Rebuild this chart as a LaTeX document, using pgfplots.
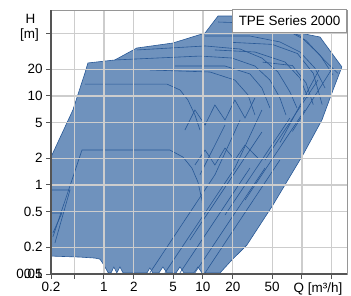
\documentclass[border=0pt]{standalone}
\usepackage{fontspec}
\setmainfont{Liberation Sans}
\usepackage{pgfplots}
\pgfplotsset{compat=1.18}
\definecolor{fillblue}{RGB}{111,146,189}
\definecolor{lineblue}{RGB}{40,88,150}
\definecolor{gridgray}{RGB}{205,205,205}
\definecolor{axisdark}{RGB}{85,85,85}
\definecolor{axislight}{RGB}{150,150,150}
\begin{document}
\begin{tikzpicture}
\path (0,0) rectangle (351bp,295bp);
\begin{axis}[
  set layers=axis on top,
  at={(51bp,21bp)}, anchor=south west, scale only axis,
  width=296bp, height=264bp,
  xmode=log, ymode=log,
  xmin=0.292, xmax=285, ymin=0.1, ymax=92.5,
  xtick={0.5,1,2,5,10,20,50,100,200},
  xticklabels={,1,2,5,10,20,50,,},
  ytick={0.1,0.2,0.5,1,2,5,10,20,50},
  yticklabels={0.1,0.2,0.5,1,2,5,10,20,},
  extra x ticks={0.292}, extra x tick labels={0.2},
  extra y ticks={0.1}, extra y tick labels={0.05},
  extra tick style={grid=none},
  xminorticks=false, yminorticks=false,
  grid=major, major grid style={gridgray, line width=1.2bp},
  axis on top,
  tick align=outside, tick pos=left, major tick length=5bp,
  every tick/.style={axisdark, line width=1bp},
  axis line style={axislight, line width=1bp},
  tick label style={font=\fontsize{13.5}{16}\selectfont, text=black},
  /pgf/number format/assume math mode=true,
  clip mode=individual,
]
% envelope
\addplot[fill=fillblue, draw=lineblue, line width=0.6bp] coordinates {
(0.292,0.159) (0.292,2.06) (0.486,6.96) (0.643,18.1) (0.689,23.5)
(1.29,25.4) (2.15,34.6) (4.98,39.4) (10.5,51.0) (14.2,79.2)
(67.3,79.2) (95.5,51.0) (152,46.0) (253,21.2) (206,11.7)
(159,5.37) (102,2.17) (50.9,0.596) (27.8,0.212) (19.6,0.144) (14.9,0.103)
(9.77,0.103) (8.90,0.12) (8.11,0.103)
(6.43,0.103) (5.86,0.12) (5.34,0.103)
(4.33,0.103) (3.94,0.12) (3.59,0.103)
(3.12,0.103) (2.91,0.117) (2.72,0.103)
(1.56,0.103) (1.45,0.12) (1.35,0.103) (1.26,0.12) (1.18,0.103)
(1.10,0.104) (1.0,0.126) (0.911,0.147) (0.811,0.151) (0.572,0.155) (0.292,0.159)
} -- cycle;
% small pumps at left
\addplot[lineblue, line width=0.6bp] coordinates {(0.298,0.879) (0.454,0.879) (0.320,0.223)};
\addplot[lineblue, line width=0.6bp] coordinates {(0.298,0.485) (0.377,0.485) (0.305,0.289)};
\addplot[lineblue, line width=0.6bp] coordinates {(0.305,0.261) (0.600,2.47)};
\addplot[lineblue, line width=0.6bp] coordinates {(0.292,1.03) (0.385,1.03)};
% medium curves
\addplot[lineblue, line width=0.6bp] coordinates {(0.600,2.47) (4.64,2.47) (6.28,2.06) (7.74,1.55) (8.90,1.08) (9.77,0.678) (10.2,0.460)};
\addplot[lineblue, line width=0.6bp] coordinates {(0.643,13.6) (4.33,13.6) (5.86,11.7) (7.05,9.02) (8.30,6.12) (9.33,4.15)};
% top arcs
\addplot[lineblue, line width=0.6bp] coordinates {(1.29,25.4) (9.33,28.1) (19.6,26.7) (33.5,21.7) (47.5,15.1) (59.9,9.50) (68.9,6.12)};
\addplot[lineblue, line width=0.6bp] coordinates {(2.15,32.9) (10.5,36.5) (23.7,33.7) (39.4,26.7) (57.2,18.6) (75.6,11.1) (89.0,7.33)};
\addplot[lineblue, line width=0.6bp] coordinates {(5.21,21.7) (16.7,21.7) (29.8,17.7) (39.4,12.3) (47.5,7.33)};
\addplot[lineblue, line width=0.6bp] coordinates {(10.5,47.2) (29.8,47.2) (59.9,40.5) (95.5,31.2) (135,20.6) (171,12.3)};
\addplot[lineblue, line width=0.6bp] coordinates {(14.2,67.8) (53.4,64.4) (95.5,47.2) (152,28.9) (206,17.2)};
\addplot[lineblue, line width=0.6bp] coordinates {(13.2,32.9) (33.5,31.2) (67.3,24.1) (95.5,15.9) (115,9.50)};
\addplot[lineblue, line width=0.6bp] coordinates {(2.91,19.6) (11.8,18.6) (21.0,15.1) (28.5,10.3) (33.5,6.12)};
\addplot[lineblue, line width=0.6bp] coordinates {(20,40) (50,38) (90,30) (130,18) (160,8)};
\addplot[lineblue, line width=0.6bp] coordinates {(30,55) (70,55) (110,42) (170,25) (230,18)};
\addplot[lineblue, line width=0.6bp] coordinates {(40,24) (80,22) (110,14) (130,8)};
% power limit diagonals
\addplot[lineblue, line width=0.6bp] coordinates {(2.91,0.103) (13.2,1.30)};
\addplot[lineblue, line width=0.6bp] coordinates {(4.13,0.103) (21.0,1.55)};
\addplot[lineblue, line width=0.6bp] coordinates {(5.86,0.103) (29.8,1.55)};
\addplot[lineblue, line width=0.6bp] coordinates {(8.30,0.103) (42.3,1.55)};
\addplot[lineblue, line width=0.6bp] coordinates {(10.5,0.103) (59.9,1.91)};
\addplot[lineblue, line width=0.6bp] coordinates {(7.39,0.241) (39.4,3.94)};
\addplot[lineblue, line width=0.6bp] coordinates {(16.7,0.460) (75.6,5.66)};
\addplot[lineblue, line width=0.6bp] coordinates {(26.6,0.678) (107,6.96)};
\addplot[lineblue, line width=0.6bp] coordinates {(42.3,1.91) (145,15.1)};
\addplot[lineblue, line width=0.6bp] coordinates {(13.2,1.30) (23.7,5.37)};
\addplot[lineblue, line width=0.6bp] coordinates {(9.33,1.30) (16.7,4.72)};
\addplot[lineblue, line width=0.6bp] coordinates {(21.0,1.55) (39.4,6.96)};
\addplot[lineblue, line width=0.6bp] coordinates {(60,3) (150,20)};
\addplot[lineblue, line width=0.6bp] coordinates {(80,4) (200,20)};
% zigzags
\addplot[lineblue, line width=0.6bp] coordinates {(6.58,4.15) (8.30,6.96) (10.5,4.72) (13.2,7.92) (16.7,5.37) (21.0,9.02) (26.6,5.66) (33.5,9.50)};
\addplot[lineblue, line width=0.6bp] coordinates {(8.30,1.68) (10.5,2.47) (13.2,1.68) (16.7,2.60) (21.0,1.91) (26.6,2.81) (35.9,2.01)};
\begin{pgfonlayer}{axis foreground}
\draw[axisdark, line width=1.6bp] (rel axis cs:0,1) -- (rel axis cs:0,0) -- (rel axis cs:1,0);
\node[draw=axislight, fill=white, line width=0.8bp, anchor=north east,
      minimum width=114bp, minimum height=23bp, inner sep=2bp, yshift=1bp,
      font=\fontsize{13.5}{16}\selectfont] at (rel axis cs:1,1) {TPE Series 2000};
\end{pgfonlayer}
\end{axis}
\node[anchor=base, font=\fontsize{13.5}{16}\selectfont, inner sep=0pt] at (30.5bp,272bp) {H};
\node[anchor=base, font=\fontsize{13.5}{16}\selectfont, inner sep=0pt] at (29.5bp,257bp) {[m]};
\node[anchor=base, font=\fontsize{13.5}{16}\selectfont, inner sep=0pt] at (318bp,3bp) {Q [m³/h]};
\end{tikzpicture}
\end{document}
